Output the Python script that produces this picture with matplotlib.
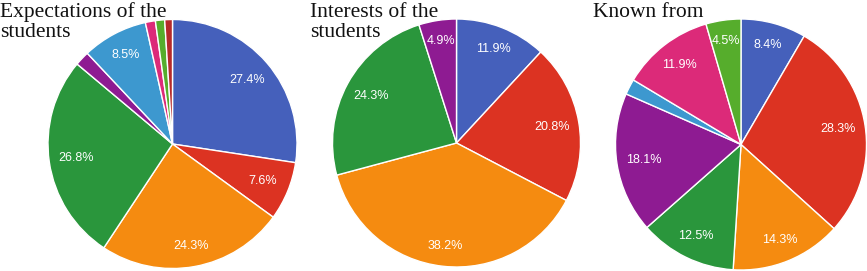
import matplotlib
matplotlib.use("Agg")
import matplotlib.pyplot as plt
import numpy as np

W, H = 867, 271

titles = [["Expectations of the", "students"], ["Interests of the", "students"], ["Known from"]]

exp_values = [27.4, 7.6, 24.3, 26.8, 1.9, 8.5, 1.3, 1.2, 1.0]
exp_colors = ["#4560bb", "#dc3322", "#f58b10", "#2a963c", "#8e1b92", "#3d98cf", "#dc2a79", "#56ad2c", "#b52a2a"]

int_values = [11.9, 20.8, 38.2, 24.3, 4.9]
int_colors = ["#4560bb", "#dc3322", "#f58b10", "#2a963c", "#8e1b92"]

known_values = [8.4, 28.3, 14.3, 12.5, 18.1, 2.0, 11.9, 4.5]
known_colors = ["#4560bb", "#dc3322", "#f58b10", "#2a963c", "#8e1b92", "#3d98cf", "#dc2a79", "#56ad2c"]

pies = [
    (exp_values, exp_colors, (172.5, 144), 124.5, 0),
    (int_values, int_colors, (456.5, 143), 124, 310),
    (known_values, known_colors, (741, 144.5), 125.5, 593),
]

fig = plt.figure(figsize=(W / 100, H / 100), dpi=100)

for (vals, cols, (cx, cy), r, tx), title in zip(pies, titles):
    ax = fig.add_axes([(cx - r) / W, (H - cy - r) / H, 2 * r / W, 2 * r / H])
    wedges, _ = ax.pie(
        vals, colors=cols, startangle=90, counterclock=False, radius=1.0,
        wedgeprops=dict(edgecolor="white", linewidth=1.0),
    )
    total = sum(vals)
    for w, v in zip(wedges, vals):
        pct = 100 * v / total
        if pct < 4:
            continue
        mid = np.deg2rad((w.theta1 + w.theta2) / 2)
        d = 0.84 - 0.06 * abs(np.cos(mid))
        ax.text(d * np.cos(mid), d * np.sin(mid), f"{v:.1f}%", ha="center", va="center",
                color="white", fontsize=9, family=["Liberation Sans", "DejaVu Sans"])
    ax.set_xlim(-1, 1)
    ax.set_ylim(-1, 1)
    ax.set_aspect("equal")
    ax.axis("off")
    for i, line in enumerate(title):
        fig.text(tx / W, 1 - (17 + 20 * i) / H, line, ha="left", va="baseline", fontsize=15.5,
                 family=["Liberation Serif", "DejaVu Serif"], color="#111111")

fig.savefig("out.png", dpi=100)
